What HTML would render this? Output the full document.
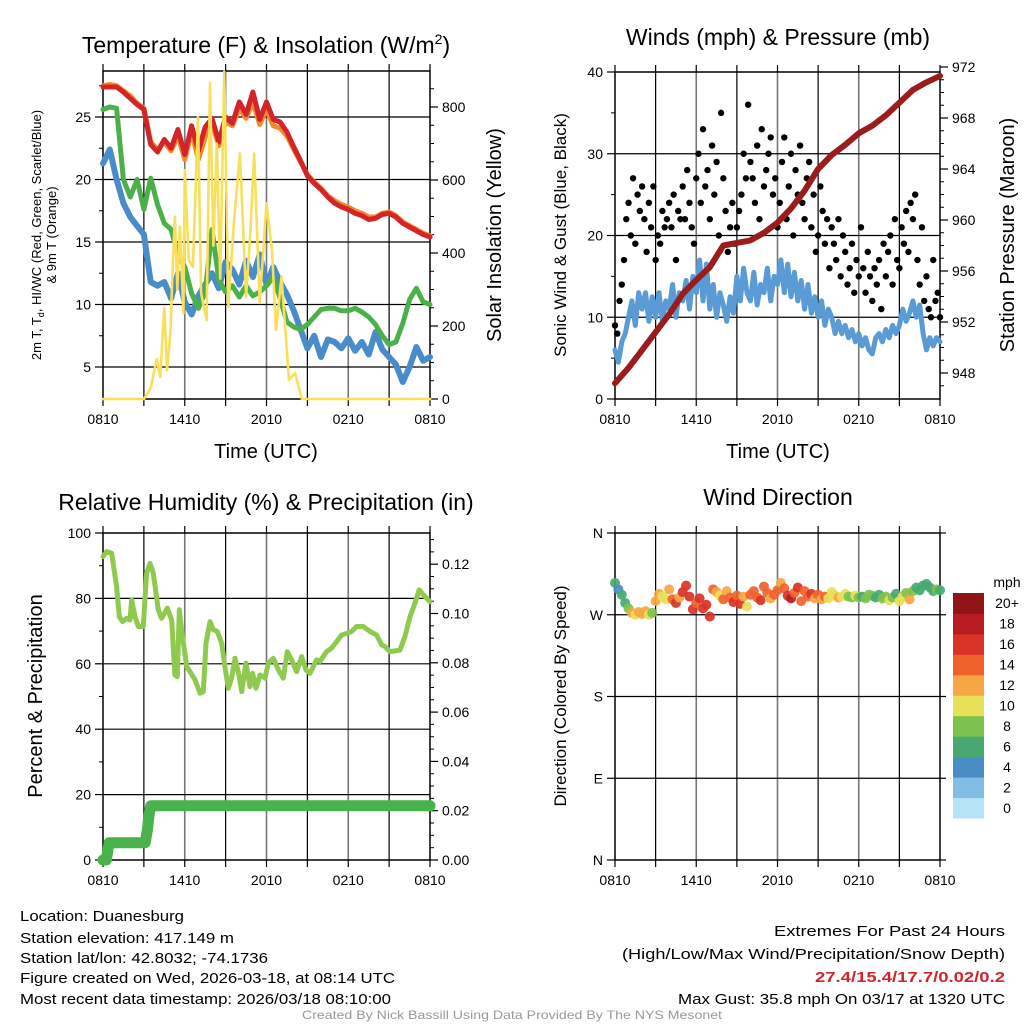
<!DOCTYPE html>
<html><head><meta charset="utf-8"><title>Station Meteogram</title>
<style>
html,body{margin:0;padding:0;background:#fff;}
svg{display:block;font-family:"Liberation Sans",sans-serif;}
</style></head>
<body>
<svg id="fig" width="1024" height="1024" viewBox="0 0 1024 1024" xmlns="http://www.w3.org/2000/svg">
<rect x="0" y="0" width="1024" height="1024" fill="#fff"/>
<!-- titles -->
<text x="266" y="53" font-size="23" text-anchor="middle">Temperature (F) &amp; Insolation (W/m<tspan font-size="14" dy="-9">2</tspan><tspan dy="9">)</tspan></text>
<text x="778" y="45" font-size="23" text-anchor="middle">Winds (mph) &amp; Pressure (mb)</text>
<text x="266" y="510" font-size="23" text-anchor="middle">Relative Humidity (%) &amp; Precipitation (in)</text>
<text x="778" y="505" font-size="23" text-anchor="middle">Wind Direction</text>
<!-- axis titles -->
<text transform="translate(41,235) rotate(-90)" font-size="13" text-anchor="middle">2m T, T<tspan font-size="9" dy="3">d</tspan><tspan dy="-3">, HI/WC (Red, Green, Scarlet/Blue)</tspan></text>
<text transform="translate(56,235) rotate(-90)" font-size="13" text-anchor="middle">&amp; 9m T (Orange)</text>
<text transform="translate(501,235) rotate(-90)" font-size="20" text-anchor="middle">Solar Insolation (Yellow)</text>
<text x="266" y="458" font-size="20" text-anchor="middle">Time (UTC)</text>
<text transform="translate(566,235) rotate(-90)" font-size="17" text-anchor="middle">Sonic Wind &amp; Gust (Blue, Black)</text>
<text transform="translate(1014,235) rotate(-90)" font-size="20" text-anchor="middle">Station Pressure (Maroon)</text>
<text x="778" y="458" font-size="20" text-anchor="middle">Time (UTC)</text>
<text transform="translate(42,696) rotate(-90)" font-size="20" text-anchor="middle">Percent &amp; Precipitation</text>
<text transform="translate(566,696) rotate(-90)" font-size="17" text-anchor="middle">Direction (Colored By Speed)</text>
<!-- footer -->
<g font-size="15">
<text x="20" y="921" textLength="164" lengthAdjust="spacingAndGlyphs">Location: Duanesburg</text>
<text x="20" y="943" textLength="214" lengthAdjust="spacingAndGlyphs">Station elevation: 417.149 m</text>
<text x="20" y="963" textLength="248" lengthAdjust="spacingAndGlyphs">Station lat/lon: 42.8032; -74.1736</text>
<text x="20" y="983" textLength="375" lengthAdjust="spacingAndGlyphs">Figure created on Wed, 2026-03-18, at 08:14 UTC</text>
<text x="20" y="1004" textLength="371" lengthAdjust="spacingAndGlyphs">Most recent data timestamp: 2026/03/18 08:10:00</text>
</g>
<g font-size="15">
<text x="774" y="936" textLength="231" lengthAdjust="spacingAndGlyphs">Extremes For Past 24 Hours</text>
<text x="622" y="959" textLength="383" lengthAdjust="spacingAndGlyphs">(High/Low/Max Wind/Precipitation/Snow Depth)</text>
<text x="815" y="982" textLength="190" lengthAdjust="spacingAndGlyphs" fill="#d3242a" font-weight="bold">27.4/15.4/17.7/0.02/0.2</text>
<text x="678" y="1004" textLength="327" lengthAdjust="spacingAndGlyphs">Max Gust: 35.8 mph On 03/17 at 1320 UTC</text>
</g>
<text x="302" y="1019" font-size="12" fill="#999" textLength="420" lengthAdjust="spacingAndGlyphs">Created By Nick Bassill Using Data Provided By The NYS Mesonet</text>
<g id="layer"></g>
</svg>
<script>
// ---------- data ----------
const xTickLabels = ["0810","1410","2010","0210","0810"];
const xTickHours = [0,6,12,18,24];
const tempTicks = [5,10,15,20,25];
const solarTicks = [0,200,400,600,800];
const windTicks = [0,10,20,30,40];
const pressTicks = [948,952,956,960,964,968,972];
const rhTicks = [0,20,40,60,80,100];
const precipTicks = [0,0.02,0.04,0.06,0.08,0.10,0.12];
const precipTickLabels = ["0.00","0.02","0.04","0.06","0.08","0.10","0.12"];
const dirTicks = [0,90,180,270,360];
const dirTickLabels = ["N","E","S","W","N"];
const speedBins = ["0","2","4","6","8","10","12","14","16","18","20+"];
const speedColors = ["#b7e3f6","#82bde6","#4a8cc4","#49a872","#7dc24c","#e6e159","#f6a642","#f0622c","#d93327","#b91b22","#8e1418"];

// half-hourly temperature series (F)
const tempRed = [27.4,27.4,27.4,27.0,26.5,26.0,25.6,22.8,22.2,23.2,22.5,24.0,22.0,24.3,22.3,24.2,24.9,23.0,25.0,24.5,26.2,25.2,27.0,24.8,26.2,24.8,24.6,23.8,22.6,21.5,20.3,19.7,19.2,18.6,18.1,17.8,17.6,17.3,17.1,16.8,16.9,17.2,17.3,17.0,16.5,16.2,15.9,15.6,15.4];
const tempOrange = [27.5,27.6,27.5,27.1,26.7,26.1,25.7,23.0,22.4,23.0,22.3,23.5,21.6,23.8,21.6,23.4,24.6,22.7,24.6,24.3,25.7,24.9,26.2,24.4,25.6,24.3,24.1,23.5,22.4,21.4,20.4,19.8,19.3,18.7,18.3,18.0,17.8,17.5,17.3,17.0,17.0,17.3,17.4,17.1,16.6,16.3,16.0,15.7,15.5];
const tempGreen = [25.6,25.8,25.7,20.0,18.6,20.0,17.6,20.1,18.0,16.5,16.0,14.0,13.0,10.9,9.7,11.0,16.0,12.0,11.0,11.5,10.6,11.5,10.7,11.0,11.5,12.2,10.5,8.6,8.2,8.0,8.4,9.0,9.6,9.7,9.7,9.5,9.5,9.7,9.4,9.0,8.4,7.5,6.8,7.0,8.5,10.4,11.3,10.2,10.0];
const tempBlue = [21.3,22.4,20.0,18.1,17.0,16.3,15.6,11.8,11.5,11.8,10.5,12.5,10.2,9.2,10.7,11.6,12.5,11.3,13.4,12.8,11.6,13.5,12.2,14.0,11.6,13.0,11.8,10.8,9.5,8.0,6.5,7.5,5.8,7.2,7.0,6.5,7.3,6.3,7.0,6.0,7.8,6.4,5.8,5.2,3.8,5.0,6.6,5.5,5.8];
// solar insolation (W/m2) at irregular hours
const solarHours = [0,3,3.5,3.94,4.2,4.5,4.7,4.95,5.1,5.28,5.45,5.65,5.9,6.0,6.3,6.6,6.97,7.2,7.6,7.85,8.1,8.35,8.6,8.9,9.2,9.6,10.05,10.5,10.8,11.1,11.5,12.0,12.4,12.7,13.1,13.65,14.1,14.6,24];
const solarVals = [0,0,30,110,60,250,79,181,350,500,300,472,235,627,380,362,773,290,216,865,420,700,330,897,252,480,673,280,450,673,263,536,408,189,335,52,71,0,0];

// wind panel
const windBlue = [6,4.5,7,8, 10,12,9,13, 11,13,9.5,12.5, 10,13,9.5,12, 11,14,10,13, 12,14.5,11,15, 13,17,12,16.5, 11,14,10,13, 11.5,9.5,12.5,10.5, 15,12,16,13, 12,15.5,11.5,14, 13,16,12,15, 14,17,13,16.5, 12.5,15.5,12,14.5, 11,14,10.5,12.5, 10,12,9,11, 10,8,9.5,8, 9,7.5,8.5,7, 8,6.5,7.5,6, 5.5,7.5,8,7, 8.5,7.5,9,8, 9,11,9.5,10.5, 12,10,11.5,8, 6,7.5,6.5,7.5, 7];
const gusts = [9,8,12,14,17,22, 24,20,27,19,25,23, 26,22,18,24,21,26, 17,20,19,23,21,22, 24,21,25,17,23,22, 26,22,28,24,21,19, 27,30,24,33,26,28, 22,31,25,29,20,35, 27,23,18,21,24,19, 21,23,25,30,27,36, 29,27,24,31,22,33, 26,28,30,32,25,27, 21,24,29,32,22,26, 30,20,28,25,31,24, 22,27,29,21,25,18, 20,26,23,19,22,16, 21,19,17,22,15,20, 18,14,16,19,13,17, 15,21,16,13,18,15, 12,16,14,17,11,19, 15,18,20,14,22,17, 16,21,19,23,18,24, 22,25,17,14,21,12, 15,11,10,17,12,13, 10];
const pressure = [947.2,948.4,949.8,951.2,952.6,954.2,955.3,956.3,958.0,958.2,958.4,959.0,959.8,960.9,962.3,964.0,965.1,965.9,966.8,967.4,968.2,969.2,970.2,970.8,971.3];

// humidity panel
const rhHours = [0,0.27,0.64,1.0,1.2,1.44,1.74,1.98,2.1,2.35,2.59,2.96,3.2,3.45,3.69,4.06,4.3,4.72,5.04,5.28,5.45,5.6,5.77,6.14,6.38,6.75,7.12,7.36,7.56,7.85,8.1,8.39,8.71,8.95,9.2,9.44,9.69,10.0,10.18,10.49,10.79,10.98,11.23,11.52,11.89,12.13,12.5,12.87,13.23,13.53,13.84,14.21,14.58,14.9,15.19,15.68,15.92,16.41,16.78,17.15,17.51,17.88,18.25,18.61,19.1,19.59,20.08,20.45,20.69,21.06,21.79,22.16,22.53,22.89,23.21,23.51,24];
const rhVals = [92.8,94.3,93.8,83.6,74.4,72.9,73.9,73.4,79.5,74.4,71.4,71.4,87.7,90.7,87.7,76.5,73.9,77.0,73.4,56.6,56.1,76.5,70.4,59.2,57.6,55.1,51.0,51.5,66.3,72.9,70.4,69.9,66.3,59.2,52.5,55.6,61.7,56.1,51.5,60.2,53.0,57.1,52.5,56.6,55.6,60.2,61.7,58.1,55.6,63.7,61.2,57.6,62.2,58.1,57.1,61.2,60.7,63.7,64.8,66.8,68.8,69.3,69.9,71.4,71.4,69.9,68.8,65.8,65.3,63.7,64.2,68.3,74.4,78.5,82.6,81.1,79.0];
const precipHours = [0,0.25,0.35,0.45,3.1,3.25,3.4,3.5,24];
const precipVals = [0,0,0.004,0.007,0.007,0.012,0.019,0.022,0.022];

// direction panel (15-min)
const dirDeg = [305,298,292,283, 277,272,270,273, 271,274,270,272, 285,293,290,287, 298,287,283,289, 295,302,290,276, 283,288,277,281, 268,298,295,291, 287,296,289,284, 291,282,290,279, 292,296,289,286, 301,294,288,292, 297,305,299,291, 288,294,300,285, 296,290,293,288, 292,287,290,288, 295,291,289,290, 293,290,289,291, 289,290,288,292, 291,289,292,288, 290,286,289,293, 285,290,294,287, 296,300,297,302, 304,300,296,298, 297];
const dirSpeed = [6,4,7,6, 8,12,11,12, 13,12,10,8, 12,13,11,10, 12,15,17,13, 16,17,17,17, 15,16,17,17, 16,14,12,11, 15,12,14,17, 15,17,13,10, 14,15,14,16, 15,14,13,15, 14,13,15,17, 18,15,17,14, 15,14,16,13, 15,12,14,11, 11,10,13,11, 10,9,8,10, 8,7,8,9, 8,7,6,8, 9,10,8,7, 10,11,9,12, 8,7,6,7, 6,7,6,8, 7];

// ---------- scales ----------
const P1 = {l:103,r:430,t:71,b:399};
const P2 = {l:615,r:940,t:72,b:399};
const P3 = {l:103,r:430,t:533,b:860};
const P4 = {l:615,r:940,t:533,b:860};
function xA(h){return P1.l + h*(P1.r-P1.l)/24;}
function xB(h){return P2.l + h*(P2.r-P2.l)/24;}
function yTemp(v){return 367 - (v-5)*12.5;}
function ySolar(v){return 399 - v*0.365;}
function yWind(v){return 399 - v*8.175;}
function yPress(v){return 373 - (v-948)*12.75;}
function yRH(v){return 860 - v*3.27;}
function yPrecip(v){return 860 - v*2465;}
function yDir(d){return 860 - d*327/360;}

const NS="http://www.w3.org/2000/svg";
const layer=document.getElementById('layer');
function mk(tag,attrs,parent){const e=document.createElementNS(NS,tag);for(const k in attrs)e.setAttribute(k,attrs[k]);(parent||layer).appendChild(e);return e;}

// ---------- frames, grids, ticks ----------
function panel(P,id,hGrid,yFn){
  const g=mk('g',{});
  
  
  for(let k=1;k<8;k++){
    const x=P.l+k*(P.r-P.l)/8;
    const ln=mk('line',{x1:x,x2:x,y1:P.t,y2:P.b,stroke:k%2?'#000':'#777','stroke-width':k%2?1.2:1.6},g);
    
    
  }
  hGrid.forEach(v=>{
    const y=yFn(v);
    const ln=mk('line',{x1:P.l,x2:P.r,y1:y,y2:y,stroke:'#000','stroke-width':1.2},g);
    
    
  });
  const fr=mk('rect',{x:P.l,y:P.t,width:P.r-P.l,height:P.b-P.t,fill:'none',stroke:'#000','stroke-width':1.5},g);
  
  
  for(let k=0;k<=8;k++){
    const x=P.l+k*(P.r-P.l)/8;
    const tk=mk('line',{x1:x,x2:x,y1:P.b,y2:P.b+7,stroke:'#000','stroke-width':1.2},g);
    
    
    const tt=mk('line',{x1:x,x2:x,y1:P.t,y2:P.t-7,stroke:'#000','stroke-width':1.2},g);
    
    
  }
  const xf = P.l===103? xA : xB;
  xTickHours.forEach((h,i)=>{
    const t=mk('text',{x:xf(h),y:P.b+25,'font-size':14,'text-anchor':'middle'},g);
    t.textContent=xTickLabels[i];
    
    
  });
  return g;
}
function yAxis(P,g,ticks,labels,yFn,side,name,minor){
  const x0 = side==='l'?P.l:P.r;
  const dir = side==='l'?-1:1;
  ticks.forEach((v,i)=>{
    const y=yFn(v);
    const tk=mk('line',{x1:x0,x2:x0+dir*8,y1:y,y2:y,stroke:'#000','stroke-width':1.2},g);
    
    
    const t=mk('text',{x:x0+dir*12,y:y+5,'font-size':14,'text-anchor':side==='l'?'end':'start'},g);
    t.textContent=labels?labels[i]:String(v);
    
    
  });
  (minor||[]).forEach(v=>{
    const y=yFn(v);
    const tk=mk('line',{x1:x0,x2:x0+dir*4,y1:y,y2:y,stroke:'#000','stroke-width':1},g);
    
    
  });
}
function path(pts,attrs,name){
  const d='M'+pts.map(p=>p[0].toFixed(1)+','+p[1].toFixed(1)).join('L');
  const e=mk('path',Object.assign({d:d,fill:'none','stroke-linejoin':'round','stroke-linecap':'round'},attrs));
  
  
  return e;
}

// Panel 1
const g1=panel(P1,'temperature',tempTicks,yTemp);
yAxis(P1,g1,tempTicks,null,yTemp,'l','temperature-y',[7.5,12.5,17.5,22.5,27.5]);
yAxis(P1,g1,solarTicks,null,ySolar,'r','insolation-y',[50,100,150,250,300,350,450,500,550,650,700,750,850]);
path(tempBlue.map((v,i)=>[xA(i*0.5),yTemp(v)]),{stroke:'#4a8cc9','stroke-width':6},'windchill-line-blue');
path(tempGreen.map((v,i)=>[xA(i*0.5),yTemp(v)]),{stroke:'#4cb04a','stroke-width':5},'dewpoint-line-green');
path(tempOrange.map((v,i)=>[xA(i*0.5),yTemp(v)]),{stroke:'#f58a2a','stroke-width':5},'temp-9m-line-orange');
path(tempRed.map((v,i)=>[xA(i*0.5),yTemp(v)]),{stroke:'#d3242a','stroke-width':5},'temp-2m-line-red');
path(solarHours.map((h,i)=>[xA(h),ySolar(solarVals[i])]),{stroke:'#f9e05a','stroke-width':2.6},'insolation-line-yellow');

// Panel 2
const g2=panel(P2,'wind',[10,20,30],yWind);
yAxis(P2,g2,windTicks,null,yWind,'l','wind-y',[5,15,25,35]);
yAxis(P2,g2,pressTicks,null,yPress,'r','pressure-y',[947,949,950,951,953,954,955,957,958,959,961,962,963,965,966,967,969,970,971]);
path(windBlue.map((v,i)=>[xB(i*0.25),yWind(v)]),{stroke:'#5a9bd5','stroke-width':5},'sonic-wind-line-blue');
gusts.forEach((v,i)=>{
  const c=mk('circle',{cx:xB(i/6),cy:yWind(v),r:3.2,fill:'#000'});
  
  
});
path(pressure.map((v,i)=>[xB(i),yPress(v)]),{stroke:'#9b1c1c','stroke-width':6},'pressure-line-maroon');

// Panel 3
const g3=panel(P3,'humidity',[20,40,60,80],yRH);
yAxis(P3,g3,rhTicks,null,yRH,'l','humidity-y',[10,30,50,70,90]);
yAxis(P3,g3,precipTicks,precipTickLabels,yPrecip,'r','precip-y',[0.005,0.01,0.015,0.025,0.03,0.035,0.045,0.05,0.055,0.065,0.07,0.075,0.085,0.09,0.095,0.105,0.11,0.115,0.125,0.13]);
path(rhHours.map((h,i)=>[xA(h),yRH(rhVals[i])]),{stroke:'#8fca4e','stroke-width':5},'humidity-line-green');
path(precipHours.map((h,i)=>[xA(h),yPrecip(precipVals[i])]),{stroke:'#47b34a','stroke-width':11},'precipitation-line-green');

// Panel 4
const g4=panel(P4,'direction',[90,180,270],yDir);
yAxis(P4,g4,dirTicks,dirTickLabels,yDir,'l','direction-y',[]);
dirTicks.forEach(v=>{
  const y=yDir(v);
  const tk=mk('line',{x1:P4.r,x2:P4.r+6,y1:y,y2:y,stroke:'#000','stroke-width':1.2},g4);
  
  
});
dirDeg.forEach((d,i)=>{
  const s=dirSpeed[i];
  const bin=Math.min(10,Math.floor(s/2));
  const c=mk('circle',{cx:xB(i*0.25),cy:yDir(d),r:5,fill:speedColors[bin],'fill-opacity':0.92});
  
  
});
// colorbar
const cb=mk('g',{});


const cbTop=593, cbH=225/11;
speedBins.forEach((lab,i)=>{
  const k=10-i;
  const y=cbTop+k*cbH;
  const r=mk('rect',{x:953,y:y,width:31,height:cbH+0.5,fill:speedColors[i]},cb);
  
  
  const t=mk('text',{x:1007,y:y+cbH/2+5,'font-size':14,'text-anchor':'middle'},cb);
  t.textContent=lab;
  
  
});
const mph=mk('text',{x:1007,y:587,'font-size':14,'text-anchor':'middle'},cb);
mph.textContent='mph';


</script>
</body></html>
